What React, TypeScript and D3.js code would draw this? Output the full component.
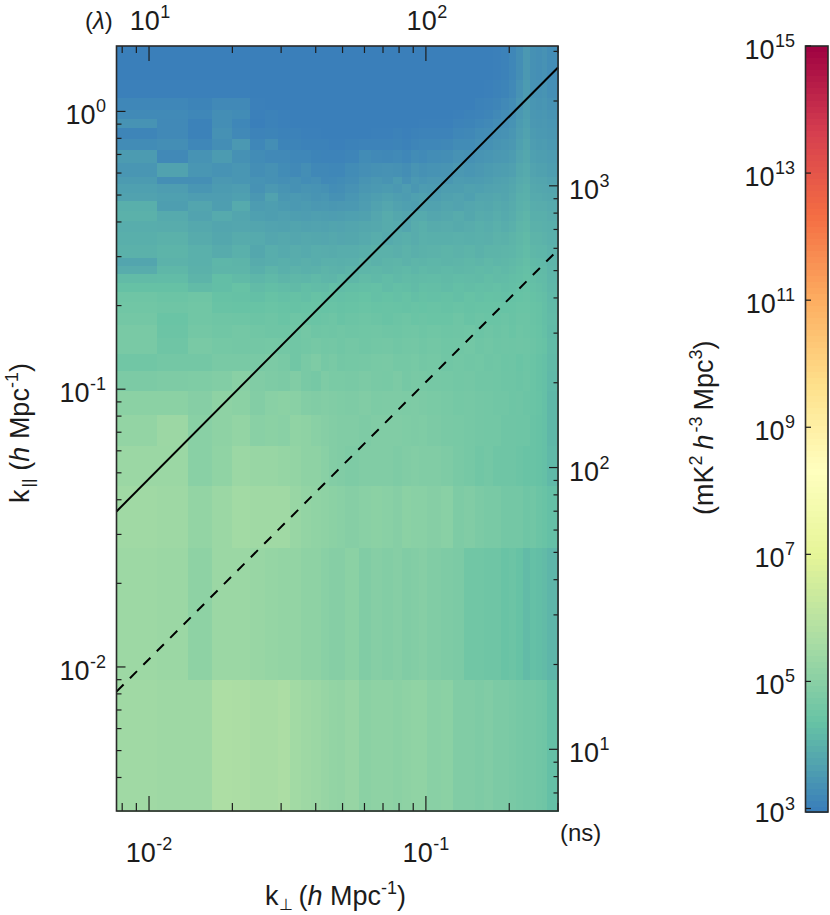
import React from "react";
import * as d3 from "d3";

const FONT = "'Liberation Sans', Arial, sans-serif";
const INK = "#1c1c1c";

// bin edges, lowest bin first (upper / right bins merged)
const kPerpEdges = [0.00763, 0.0107, 0.0138, 0.0169, 0.02, 0.0231, 0.0262, 0.0293, 0.0324, 0.0355, 0.0386, 0.0417, 0.0448, 0.0479, 0.051, 0.0572, 0.0634, 0.0696, 0.0758, 0.082, 0.0882, 0.0944, 0.1006, 0.113, 0.1254, 0.1378, 0.1502, 0.1626, 0.175, 0.1874, 0.1998, 0.2122, 0.2246, 0.237, 0.2494, 0.2618, 0.2742, 0.3];
const kParEdges = [0.00303, 0.009, 0.027, 0.045, 0.063, 0.081, 0.099, 0.117, 0.135, 0.153, 0.171, 0.189, 0.207, 0.225, 0.243, 0.261, 0.279, 0.297, 0.333, 0.369, 0.405, 0.441, 0.477, 0.513, 0.549, 0.585, 0.657, 0.729, 0.801, 0.873, 0.945, 1.017, 1.125, 1.305, 1.72];

// log10 power per cell, estimated from the colours. rows go bottom to top
const logPower = [
  [5.45,5.42,5.42,5.72,5.68,5.6,5.6,5.68,5.5,5.42,5.35,5.28,5.2,5.18,5.28,5.05,5.1,5.1,5.05,5.1,5.15,5.15,5.0,5.05,4.85,4.85,4.8,4.85,4.75,4.75,4.7,4.65,4.6,4.6,4.55,4.5,4.3],
  [5.4,5.35,5.1,5.35,5.35,5.3,5.25,5.2,5.2,5.1,5.1,5.0,4.95,4.95,5.05,4.85,4.95,4.9,4.95,4.85,4.9,4.95,4.85,4.8,4.75,4.55,4.55,4.5,4.5,4.4,4.45,4.35,4.2,4.3,4.25,4.2,4.1],
  [5.45,5.42,5.2,5.35,5.5,5.45,5.45,5.45,5.3,5.2,5.15,5.1,5.05,5.0,4.95,5.0,5.05,5.0,4.95,5.05,5.0,5.0,4.95,5.0,4.8,4.85,4.75,4.7,4.7,4.6,4.6,4.6,4.5,4.55,4.45,4.4,4.3],
  [5.35,5.35,5.0,5.15,5.35,5.3,5.3,5.25,5.2,5.1,5.1,5.0,4.9,4.85,4.8,4.85,4.85,4.85,4.8,4.85,4.9,4.85,4.85,4.8,4.7,4.65,4.55,4.6,4.5,4.5,4.5,4.45,4.4,4.4,4.35,4.3,4.15],
  [5.2,5.38,5.0,5.1,5.2,5.0,5.05,5.0,5.15,5.1,5.0,4.95,4.9,4.85,4.85,4.8,4.85,4.85,4.85,4.82,4.8,4.82,4.75,4.7,4.68,4.65,4.6,4.58,4.58,4.5,4.5,4.48,4.48,4.4,4.35,4.3,4.12],
  [5.05,5.05,4.95,5.1,5.05,4.9,5.0,5.05,5.0,4.9,4.85,4.9,4.85,4.82,4.8,4.85,4.78,4.8,4.8,4.78,4.8,4.75,4.72,4.68,4.62,4.65,4.6,4.58,4.55,4.55,4.48,4.5,4.45,4.42,4.38,4.3,4.12],
  [4.75,4.8,4.82,4.88,5.0,4.85,4.8,4.75,4.85,4.7,4.65,4.8,4.72,4.72,4.7,4.75,4.7,4.68,4.75,4.65,4.7,4.68,4.65,4.62,4.58,4.6,4.55,4.55,4.52,4.48,4.48,4.45,4.48,4.42,4.35,4.3,4.15],
  [4.55,4.6,4.6,4.7,4.7,4.7,4.75,4.7,4.55,4.7,4.8,4.65,4.7,4.6,4.62,4.65,4.68,4.7,4.62,4.62,4.66,4.6,4.62,4.55,4.58,4.55,4.56,4.5,4.52,4.46,4.48,4.42,4.46,4.42,4.35,4.3,4.18],
  [4.7,4.5,4.7,4.62,4.6,4.6,4.62,4.6,4.55,4.58,4.65,4.58,4.6,4.55,4.6,4.55,4.58,4.6,4.55,4.58,4.6,4.55,4.58,4.52,4.55,4.58,4.5,4.55,4.48,4.5,4.48,4.5,4.48,4.45,4.4,4.35,4.2],
  [4.7,4.45,4.6,4.55,4.6,4.55,4.5,4.5,4.52,4.6,4.5,4.52,4.5,4.55,4.5,4.52,4.55,4.5,4.48,4.52,4.55,4.48,4.52,4.48,4.5,4.52,4.45,4.5,4.45,4.48,4.42,4.48,4.45,4.42,4.38,4.3,4.18],
  [4.6,4.42,4.55,4.5,4.48,4.45,4.48,4.42,4.48,4.45,4.42,4.45,4.48,4.4,4.45,4.48,4.45,4.4,4.45,4.48,4.42,4.45,4.42,4.42,4.48,4.4,4.45,4.42,4.42,4.45,4.4,4.45,4.45,4.4,4.35,4.28,4.2],
  [4.55,4.5,4.55,4.4,4.38,4.38,4.42,4.38,4.35,4.38,4.4,4.36,4.4,4.35,4.38,4.42,4.38,4.4,4.38,4.35,4.4,4.36,4.4,4.35,4.4,4.35,4.38,4.38,4.4,4.36,4.38,4.42,4.42,4.38,4.35,4.28,4.18],
  [4.5,4.45,4.5,4.35,4.32,4.28,4.35,4.3,4.32,4.28,4.35,4.3,4.32,4.3,4.32,4.36,4.3,4.34,4.3,4.35,4.28,4.32,4.3,4.32,4.28,4.35,4.3,4.34,4.32,4.3,4.34,4.36,4.4,4.34,4.3,4.26,4.15],
  [4.32,4.32,4.2,4.25,4.35,4.2,4.25,4.22,4.18,4.25,4.22,4.2,4.28,4.22,4.25,4.28,4.3,4.22,4.28,4.25,4.2,4.28,4.26,4.22,4.28,4.24,4.28,4.26,4.3,4.25,4.28,4.32,4.36,4.3,4.26,4.22,4.12],
  [4.2,4.22,4.05,4.25,4.18,4.1,4.15,4.08,4.12,4.1,4.15,4.1,4.08,4.15,4.12,4.2,4.15,4.22,4.16,4.2,4.18,4.2,4.22,4.18,4.22,4.2,4.18,4.24,4.2,4.22,4.25,4.28,4.32,4.26,4.22,4.2,4.1],
  [3.9,4.12,4.0,4.08,4.08,3.95,4.05,3.98,4.02,3.98,4.0,4.05,4.02,4.0,4.05,4.1,4.12,4.08,4.12,4.16,4.1,4.15,4.12,4.15,4.12,4.14,4.18,4.15,4.2,4.16,4.2,4.25,4.3,4.22,4.2,4.18,4.08],
  [3.75,4.02,3.98,4.1,4.05,3.88,3.92,3.95,3.92,3.96,3.92,3.98,3.98,3.95,3.98,4.05,4.0,4.05,4.08,4.02,4.08,4.05,4.1,4.06,4.08,4.12,4.08,4.14,4.1,4.12,4.16,4.2,4.26,4.18,4.16,4.14,4.05],
  [4.0,4.05,3.98,3.88,3.98,3.8,3.92,3.85,3.9,3.85,3.92,3.9,3.88,3.92,3.92,3.95,4.0,4.0,3.96,4.02,3.96,4.0,4.02,4.06,4.02,4.05,4.0,4.06,4.05,4.08,4.1,4.16,4.22,4.12,4.1,4.1,4.02],
  [3.95,4.0,3.88,3.8,3.88,3.85,3.78,3.82,3.78,3.82,3.8,3.78,3.82,3.78,3.8,3.85,3.92,3.85,3.92,3.95,3.9,3.98,3.95,3.95,3.98,3.95,3.98,3.96,4.02,4.0,4.06,4.12,4.18,4.06,4.06,4.02,3.98],
  [3.92,3.9,3.82,3.75,3.78,3.75,3.72,3.7,3.74,3.7,3.72,3.7,3.74,3.72,3.75,3.8,3.82,3.88,3.85,3.78,3.9,3.95,3.88,3.9,3.86,3.9,3.95,3.92,3.98,3.92,3.98,4.08,4.12,4.0,4.0,3.98,3.95],
  [4.0,3.85,3.72,3.85,3.76,3.65,3.62,3.66,3.62,3.6,3.64,3.62,3.6,3.62,3.65,3.68,3.78,3.88,3.8,3.75,3.85,3.85,3.78,3.82,3.88,3.8,3.88,3.85,3.92,3.85,3.92,4.02,4.08,3.95,3.95,3.95,3.9],
  [3.95,3.62,3.75,3.62,3.85,3.58,3.62,3.55,3.52,3.55,3.5,3.52,3.48,3.5,3.52,3.6,3.7,3.78,3.7,3.65,3.62,3.72,3.7,3.75,3.72,3.78,3.82,3.8,3.86,3.82,3.88,3.98,4.02,3.92,3.9,3.9,3.85],
  [3.7,3.65,3.6,3.6,3.65,3.48,3.7,3.48,3.52,3.48,3.42,3.45,3.35,3.35,3.45,3.55,3.62,3.68,3.62,3.58,3.65,3.68,3.62,3.68,3.72,3.65,3.75,3.75,3.8,3.76,3.84,3.95,3.98,3.85,3.85,3.82,3.8],
  [3.65,3.6,3.45,3.55,3.6,3.38,3.5,3.42,3.35,3.42,3.4,3.36,3.28,3.3,3.38,3.48,3.52,3.55,3.5,3.6,3.48,3.58,3.55,3.62,3.62,3.68,3.65,3.7,3.72,3.74,3.8,3.9,3.95,3.82,3.8,3.78,3.75],
  [3.55,3.32,3.32,3.5,3.45,3.4,3.36,3.32,3.36,3.28,3.32,3.2,3.22,3.25,3.3,3.42,3.48,3.42,3.55,3.38,3.52,3.45,3.5,3.48,3.58,3.55,3.58,3.62,3.68,3.7,3.75,3.85,3.9,3.78,3.75,3.75,3.7],
  [3.45,3.7,3.45,3.4,3.45,3.3,3.35,3.25,3.2,3.3,3.18,3.18,3.15,3.15,3.25,3.32,3.35,3.38,3.35,3.3,3.42,3.35,3.4,3.42,3.5,3.45,3.5,3.55,3.6,3.62,3.66,3.8,3.85,3.72,3.68,3.68,3.62],
  [3.55,3.2,3.4,3.55,3.35,3.25,3.2,3.2,3.15,3.15,3.1,3.08,3.08,3.08,3.12,3.25,3.2,3.18,3.22,3.15,3.25,3.22,3.28,3.3,3.38,3.35,3.42,3.45,3.5,3.52,3.58,3.72,3.8,3.65,3.62,3.62,3.58],
  [3.25,3.3,3.15,3.3,3.5,3.15,3.3,3.1,3.1,3.05,3.05,3.05,3.02,3.02,3.05,3.08,3.08,3.08,3.1,3.05,3.12,3.15,3.15,3.18,3.25,3.25,3.32,3.35,3.42,3.45,3.5,3.65,3.75,3.6,3.55,3.58,3.52],
  [3.12,3.2,3.05,3.35,3.2,3.08,3.1,3.05,3.05,3.02,3.02,3,3,3,3,3,3.02,3.02,3.05,3.02,3.05,3.08,3.08,3.08,3.15,3.18,3.25,3.28,3.35,3.38,3.45,3.6,3.7,3.55,3.52,3.52,3.48],
  [3.4,3.2,3.05,3.3,3.15,3,3.05,3.02,3,3,3,3,3,3,3,3,3,3,3,3,3,3.02,3.02,3.02,3.08,3.1,3.15,3.2,3.28,3.32,3.4,3.55,3.65,3.5,3.48,3.5,3.45],
  [3.22,3.22,3.15,3.3,3.25,3.02,3.05,3.02,3,3,3,3,3,3,3,3,3,3,3,3,3,3,3,3,3.02,3.05,3.08,3.12,3.2,3.28,3.35,3.5,3.62,3.48,3.45,3.48,3.42],
  [3.15,3.15,3.1,3.2,3.2,3.02,3,3,3,3,3,3,3,3,3,3,3,3,3,3,3,3,3,3,3,3,3.05,3.08,3.12,3.2,3.28,3.45,3.6,3.45,3.42,3.45,3.38],
  [3.02,3.02,3.02,3.02,3.02,3,3,3,3,3,3,3,3,3,3,3,3,3,3,3,3,3,3,3,3,3,3,3.02,3.05,3.1,3.2,3.38,3.55,3.4,3.38,3.42,3.32],
  [3,3,3,3,3,3,3,3,3,3,3,3,3,3,3,3,3,3,3,3,3,3,3,3,3,3,3,3,3.02,3.05,3.15,3.3,3.5,3.35,3.32,3.38,3.28],
];

const colorStops = ["#3a7fba", "#66c2a5", "#abdda4", "#e6f598", "#ffffbf", "#fee08b", "#fdae61", "#f46d43", "#d53e4f", "#9e0142"];

const kPerpLine = [0.00763, 0.3];
const horizonLine = [0.0363, 1.44];
const beamLine = [0.00815, 0.3175];

const kPerpLabels = [0.01, 0.1];
const lambdaLabels = [10, 100];
const kParLabels = [1, 0.1, 0.01];
const delayLabels = [1000, 100, 10];
const colorbarLabels = [15, 13, 11, 9, 7, 5, 3];

const plot = { left: 116.5, right: 558, top: 46, bottom: 811 };
const bar = { left: 805.5, right: 828, top: 46, bottom: 812 };

const x = d3.scaleLog().domain([0.00763, 0.3]).range([plot.left, plot.right]);
const xTop = d3.scaleLog().domain([7.63, 300]).range([plot.left, plot.right]);
const y = d3.scaleLog().domain([0.00303, 1.72]).range([plot.bottom, plot.top]);
const yRight = d3.scaleLog().domain([6.04, 3135]).range([plot.bottom, plot.top]);
const barY = d3.scaleLinear().domain([3, 15]).range([808.5, 46]);

const color = d3
  .scaleLinear<string>()
  .domain(colorStops.map((_, i) => 3 + (i * 12) / (colorStops.length - 1)))
  .range(colorStops);

const isDecade = (v: number) => Math.abs(Math.log10(v) - Math.round(Math.log10(v))) < 1e-6;
const expOf = (v: number) => Math.round(Math.log10(v));

const Power = ({ exp, x, y, anchor = "start" }: any) => (
  <text x={x} y={y} textAnchor={anchor} fontSize={27} fontFamily={FONT} fill={INK}>
    10
    <tspan dy={-12} fontSize={18} dx={0.5}>{exp}</tspan>
  </text>
);

export default function App() {
  const lineGen = d3
    .line<[number, number]>()
    .x((d) => x(d[0]))
    .y((d) => y(d[1]));

  const horizonPath = lineGen(kPerpLine.map((k, i) => [k, horizonLine[i]] as [number, number]));
  const beamPath = lineGen(kPerpLine.map((k, i) => [k, beamLine[i]] as [number, number]));

  const barStep = 0.095;
  const barSteps = d3.range(2.94, 15, barStep);

  return (
    <svg width={830} height={915} style={{ position: "absolute", left: 0, top: 0, display: "block" }}>
      <g shapeRendering="crispEdges">
        {logPower.map((row, r) =>
          row.map((v, c) => (
            <rect
              key={r + "-" + c}
              x={x(kPerpEdges[c])}
              width={x(kPerpEdges[c + 1]) - x(kPerpEdges[c]) + 0.6}
              y={y(kParEdges[r + 1])}
              height={y(kParEdges[r]) - y(kParEdges[r + 1]) + 0.6}
              fill={color(v)}
            />
          ))
        )}
      </g>

      <path d={horizonPath!} fill="none" stroke="#000" strokeWidth={2} />
      <path d={beamPath!} fill="none" stroke="#000" strokeWidth={2} strokeDasharray="10,9" />

      {/* bottom and top axes */}
      {x.ticks().map((t) => (
        <line key={"xb" + t} x1={x(t)} x2={x(t)} y1={plot.bottom} y2={plot.bottom - (isDecade(t) ? 15 : 8)} stroke={INK} strokeWidth={1.2} />
      ))}
      {xTop.ticks().map((t) => (
        <line key={"xt" + t} x1={xTop(t)} x2={xTop(t)} y1={plot.top} y2={plot.top + (isDecade(t) ? 15 : 7)} stroke={INK} strokeWidth={1.2} />
      ))}
      {/* left and right axes */}
      {y.ticks().map((t) => (
        <line key={"yl" + t} x1={plot.left} x2={plot.left + (isDecade(t) ? 9 : 5)} y1={y(t)} y2={y(t)} stroke={INK} strokeWidth={1.2} />
      ))}
      {yRight.ticks().map((t) => (
        <line key={"yr" + t} x1={plot.right} x2={plot.right - (isDecade(t) ? 9 : 4.5)} y1={yRight(t)} y2={yRight(t)} stroke={INK} strokeWidth={1.2} />
      ))}
      <rect x={plot.left} y={plot.top} width={plot.right - plot.left} height={plot.bottom - plot.top} fill="none" stroke="#2a2a2a" strokeWidth={1.6} />

      {kPerpLabels.map((t) => (
        <Power key={t} exp={expOf(t)} x={x(t)} y={862} anchor="middle" />
      ))}
      {lambdaLabels.map((t) => (
        <Power key={t} exp={expOf(t)} x={xTop(t) + 1} y={30} anchor="middle" />
      ))}
      {kParLabels.map((t) => (
        <Power key={t} exp={expOf(t)} x={106} y={y(t) + 13} anchor="end" />
      ))}
      {delayLabels.map((t) => (
        <Power key={t} exp={expOf(t)} x={569} y={yRight(t) + 13} />
      ))}

      <text x={85} y={29} fontSize={24} fontFamily={FONT} fill={INK}>
        (<tspan fontStyle="italic">λ</tspan>)
      </text>
      <text x={560} y={841} fontSize={24} fontFamily={FONT} fill={INK}>(ns)</text>

      <text x={265} y={905} fontSize={27} fontFamily={FONT} fill={INK}>
        k
        <tspan dy={5} fontSize={16}>⊥</tspan>
        <tspan dy={-5} dx={6}>(</tspan>
        <tspan fontStyle="italic">h</tspan> Mpc
        <tspan dy={-11} fontSize={18}>-1</tspan>
        <tspan dy={11}>)</tspan>
      </text>

      <text transform="translate(29,503) rotate(-90)" fontSize={27} fontFamily={FONT} fill={INK}>
        k
        <tspan dy={5} fontSize={17} dx={2}>||</tspan>
        <tspan dy={-5} dx={8}>(</tspan>
        <tspan fontStyle="italic">h</tspan> Mpc
        <tspan dy={-11} fontSize={18}>-1</tspan>
        <tspan dy={11}>)</tspan>
      </text>

      <text transform="translate(713,515) rotate(-90)" fontSize={27} fontFamily={FONT} fill={INK}>
        (mK
        <tspan dy={-11} fontSize={18}>2</tspan>
        <tspan dy={11} dx={6} fontStyle="italic">h</tspan>
        <tspan dy={-11} fontSize={18} dx={2}>-3</tspan>
        <tspan dy={11} dx={6}>Mpc</tspan>
        <tspan dy={-11} fontSize={18}>3</tspan>
        <tspan dy={11}>)</tspan>
      </text>

      {/* colour bar */}
      <g shapeRendering="crispEdges">
        {barSteps.map((v) => (
          <rect
            key={v}
            x={bar.left}
            width={bar.right - bar.left}
            y={barY(Math.min(v + barStep, 15))}
            height={barY(v) - barY(Math.min(v + barStep, 15)) + 0.5}
            fill={color(Math.max(v + barStep / 2, 3))}
          />
        ))}
      </g>
      <rect x={bar.left} y={bar.top} width={bar.right - bar.left} height={bar.bottom - bar.top} fill="none" stroke="#2a2a2a" strokeWidth={1.6} />
      {colorbarLabels.map((e) => (
        <g key={e}>
          <line x1={bar.left} x2={bar.left + 5.5} y1={barY(e)} y2={barY(e)} stroke={INK} strokeWidth={1.2} />
          <Power exp={e} x={795} y={barY(e) + 13} anchor="end" />
        </g>
      ))}
    </svg>
  );
}
